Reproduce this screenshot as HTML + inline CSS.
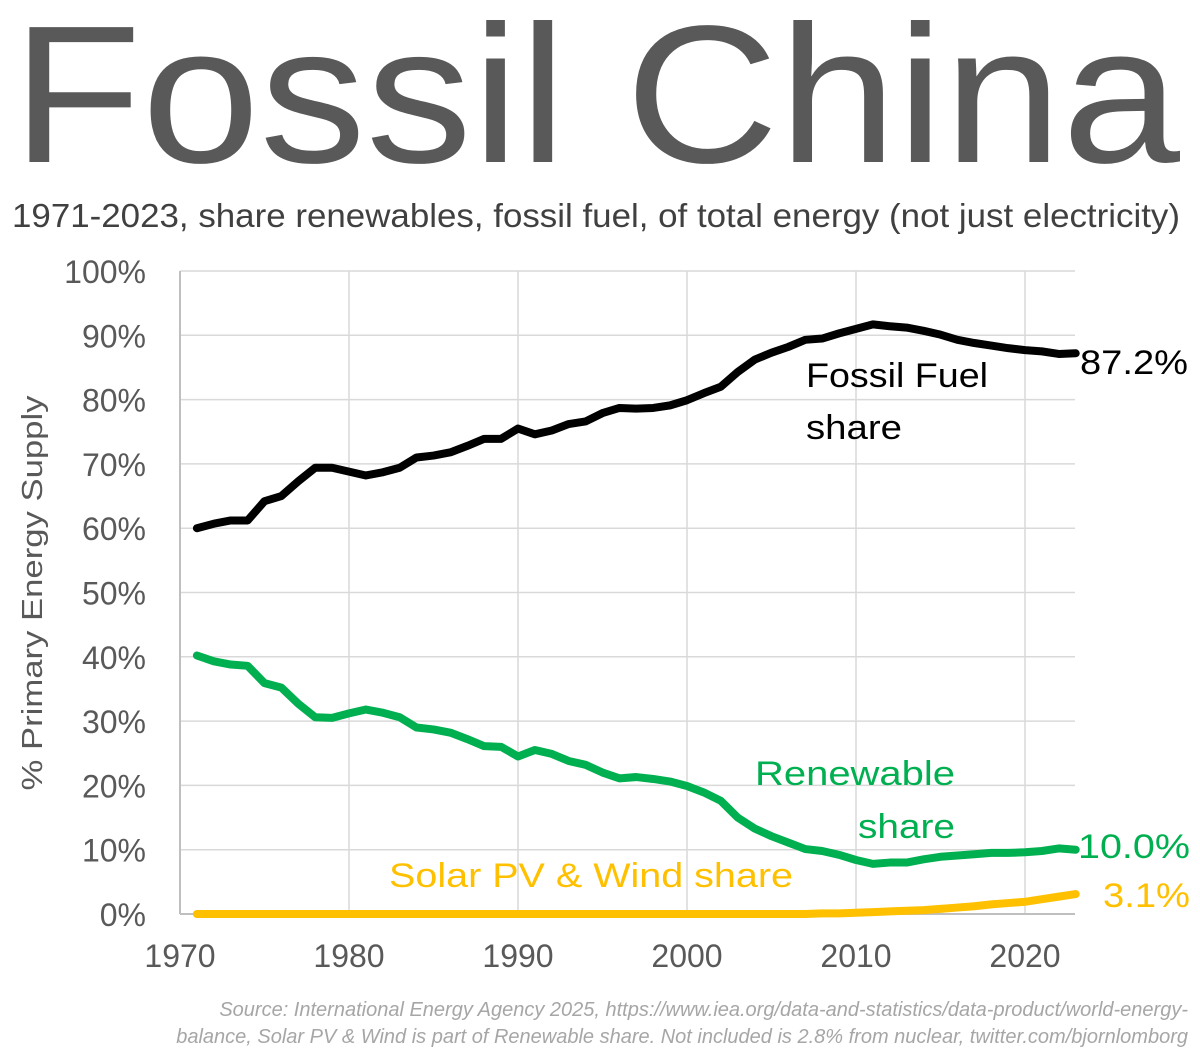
<!DOCTYPE html>
<html><head><meta charset="utf-8"><style>
body{margin:0;background:#fff}
svg{display:block;font-family:"Liberation Sans",sans-serif}
</style></head><body>
<svg width="1200" height="1056" viewBox="0 0 1200 1056">
<text x="12" y="162" font-size="196" fill="#595959" textLength="1168" lengthAdjust="spacingAndGlyphs">Fossil China</text>
<text x="12" y="227" font-size="33" fill="#404040" textLength="1168" lengthAdjust="spacingAndGlyphs">1971-2023, share renewables, fossil fuel, of total energy (not just electricity)</text>
<g id="grid"></g>
<g id="axes"></g>
<g id="series"></g>
<text transform="translate(42,593) rotate(-90)" text-anchor="middle" font-size="29" fill="#595959" textLength="395" lengthAdjust="spacingAndGlyphs">% Primary Energy Supply</text>
<text x="806" y="387" font-size="34" fill="#000" textLength="182" lengthAdjust="spacingAndGlyphs">Fossil Fuel</text>
<text x="806" y="439" font-size="34" fill="#000" textLength="96" lengthAdjust="spacingAndGlyphs">share</text>
<text x="1080" y="374" font-size="34" fill="#000" textLength="108" lengthAdjust="spacingAndGlyphs">87.2%</text>
<text x="755" y="785" font-size="34" fill="#00b050" textLength="200" lengthAdjust="spacingAndGlyphs">Renewable</text>
<text x="858" y="838" font-size="34" fill="#00b050" textLength="97" lengthAdjust="spacingAndGlyphs">share</text>
<text x="1078" y="858" font-size="34" fill="#00b050" textLength="112" lengthAdjust="spacingAndGlyphs">10.0%</text>
<text x="389" y="887" font-size="34" fill="#ffc000" textLength="404" lengthAdjust="spacingAndGlyphs">Solar PV &amp; Wind share</text>
<text x="1103" y="907" font-size="34" fill="#ffc000" textLength="87" lengthAdjust="spacingAndGlyphs">3.1%</text>
<text x="1188" y="1016" text-anchor="end" font-size="20" font-style="italic" fill="#a6a6a6">Source: International Energy Agency 2025, https://www.iea.org/data-and-statistics/data-product/world-energy-</text>
<text x="1188" y="1043" text-anchor="end" font-size="20" font-style="italic" fill="#a6a6a6">balance, Solar PV &amp; Wind is part of Renewable share. Not included is 2.8% from nuclear, twitter.com/bjornlomborg</text>
</svg>
<script>
const years=[];for(let y=1971;y<=2023;y++)years.push(y);
const fossil=[60,60.7,61.2,61.2,64.2,65,67.3,69.4,69.4,68.8,68.2,68.7,69.4,71,71.3,71.8,72.8,73.9,73.9,75.5,74.6,75.2,76.2,76.6,77.9,78.7,78.6,78.7,79.1,79.9,81,82,84.3,86.2,87.3,88.2,89.3,89.5,90.3,91,91.7,91.4,91.2,90.7,90.1,89.3,88.8,88.4,88,87.7,87.5,87.1,87.2];
const renewable=[40.2,39.3,38.8,38.6,35.9,35.2,32.7,30.6,30.5,31.2,31.8,31.3,30.6,29,28.7,28.2,27.2,26.1,26,24.5,25.5,24.9,23.8,23.2,22,21.1,21.3,21,20.6,19.9,18.9,17.6,15,13.3,12.1,11.1,10.1,9.8,9.2,8.4,7.8,8,8,8.5,8.9,9.1,9.3,9.5,9.5,9.6,9.8,10.2,10.0];
const solar=[0,0,0,0,0,0,0,0,0,0,0,0,0,0,0,0,0,0,0,0,0,0,0,0,0,0,0,0,0,0,0,0,0,0,0,0,0,0.1,0.1,0.2,0.3,0.4,0.5,0.6,0.8,1.0,1.2,1.5,1.7,1.9,2.3,2.7,3.1];
const yTicks=[0,10,20,30,40,50,60,70,80,90,100];
const xTicks=[1970,1980,1990,2000,2010,2020];
const X=y=>180+(y-1970)*16.9, Y=v=>914-v*6.43;
const NS='http://www.w3.org/2000/svg';
function mk(t,a,p){const e=document.createElementNS(NS,t);for(const k in a)e.setAttribute(k,a[k]);p.appendChild(e);return e;}
const g=document.getElementById('grid'),ax=document.getElementById('axes'),s=document.getElementById('series');
yTicks.forEach(v=>{
 if(v>0){const l=mk('line',{x1:180,x2:1075,y1:Y(v),y2:Y(v),stroke:'#d9d9d9','stroke-width':1.5},g);
 
 }
 const t=mk('text',{x:146,y:Y(v)+12,'text-anchor':'end','font-size':32,fill:'#595959'},ax);t.textContent=v+'%';
 
 
});
xTicks.forEach(v=>{
 if(v>1970){const l=mk('line',{x1:X(v),x2:X(v),y1:Y(100),y2:Y(0),stroke:'#d9d9d9','stroke-width':1.5},g);
 
 }
 const t=mk('text',{x:X(v),y:967,'text-anchor':'middle','font-size':32,fill:'#595959'},ax);t.textContent=v;
 
 
});
const a1=mk('line',{x1:180,x2:180,y1:Y(100),y2:Y(0),stroke:'#bfbfbf','stroke-width':2},ax);


const a2=mk('line',{x1:180,x2:1075,y1:Y(0),y2:Y(0),stroke:'#bfbfbf','stroke-width':2},ax);


function line(d,c,n){const p=mk('polyline',{points:d.map((v,i)=>X(years[i])+','+Y(v)).join(' '),fill:'none',stroke:c,'stroke-width':8,'stroke-linejoin':'round','stroke-linecap':'round'},s);
 
 }
line(solar,'#ffc000','solar-wind-line');
line(renewable,'#00b050','renewable-line');
line(fossil,'#000000','fossil-line');
</script>
</body></html>
